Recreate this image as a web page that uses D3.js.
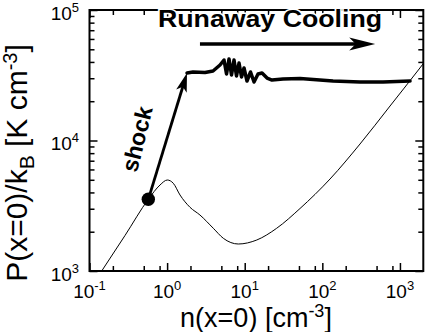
<!DOCTYPE html>
<html>
<head>
<meta charset="utf-8">
<script src="https://cdn.jsdelivr.net/npm/d3@7"></script>
<style>
body { margin: 0; background: #fff; }
svg { display: block; font-family: "Liberation Sans", Arial, Helvetica, sans-serif; }
</style>
</head>
<body>
<svg width="425" height="332"></svg>
<script>
// curva di equilibrio termico P(n)
var eqN = [0.1436, 0.2868, 0.5725, 0.810, 1.006, 1.202, 1.466, 1.973, 2.65, 3.94, 5.30, 8.27, 14.3, 25.8, 51.6, 125.7, 306, 745.6, 1727, 2000];
var eqP = [1000, 1871, 3543, 4560, 4981, 4700, 3823, 3077, 2685, 2125, 1781, 1610, 1728, 2125, 3013, 5070, 9402, 18380, 34690, 38850];

// traiettoria dopo lo shock
var trajN = [1.804, 2.157, 3.079, 3.904, 4.805, 5.410, 5.830, 6.277, 6.762, 7.280, 7.840, 8.445, 9.095, 9.795, 10.70, 11.88, 13.18, 14.84, 16.71, 19.39, 22.48, 31.16, 51.60, 137.4, 306.0, 605.7, 1350];
var trajP = [32900, 33490, 33190, 34080, 37880, 41400, 32330, 42130, 31760, 41400, 31210, 39260, 30660, 35940, 28570, 33490, 28070, 32330, 32900, 30120, 29080, 29600, 29860, 28570, 28070, 28070, 28570];

// freccia dello shock (inizio -> fine)
var shockN = [0.5725, 1.804];
var shockP = [3543, 32900];

// freccia "Runaway Cooling"
var runawayN = [2.65, 480];
var runawayP = 54800;

// tick
var xMajor = [0.1, 1, 10, 100, 1000];
var xExp = ["-1", "0", "1", "2", "3"];
var xMinor = [0.2, 0.5, 0.8, 2, 5, 8, 20, 50, 80, 200, 500, 800];
var yMajor = [1e3, 1e4, 1e5];
var yExp = ["3", "4", "5"];
var yMinor = [2e3, 3e3, 4e3, 5e3, 6e3, 7e3, 8e3, 9e3, 2e4, 3e4, 4e4, 5e4, 6e4, 7e4, 8e4, 9e4];

var svg = d3.select("svg");
var bordoSx = 89.5, bordoDx = 423.3, bordoSu = 10, bordoGiu = 271;

var x = d3.scaleLog().domain([0.1, 2000]).range([bordoSx, bordoDx]);
var y = d3.scaleLog().domain([1e3, 1e5]).range([bordoGiu, bordoSu]);

svg.append("clipPath").attr("id", "clip")
	.append("rect").attr("x", bordoSx).attr("y", bordoSu)
	.attr("width", bordoDx - bordoSx).attr("height", bordoGiu - bordoSu);

// assi con tick verso l'interno
function tickAxes(vals, size){
	svg.append("g").attr("transform", "translate(0," + bordoGiu + ")")
		.call(d3.axisBottom(x).tickValues(vals).tickSize(-size).tickFormat(""));
	svg.append("g").attr("transform", "translate(0," + bordoSu + ")")
		.call(d3.axisTop(x).tickValues(vals).tickSize(-size).tickFormat(""));
}
function tickAxesY(vals, size){
	svg.append("g").attr("transform", "translate(" + bordoSx + ",0)")
		.call(d3.axisLeft(y).tickValues(vals).tickSize(-size).tickFormat(""));
	svg.append("g").attr("transform", "translate(" + bordoDx + ",0)")
		.call(d3.axisRight(y).tickValues(vals).tickSize(-size).tickFormat(""));
}
tickAxes(xMajor, 8);
tickAxes(xMinor, 5);
tickAxesY(yMajor, 8);
tickAxesY(yMinor, 5);
svg.selectAll(".domain").remove();
svg.selectAll(".tick line").attr("stroke", "#000").attr("stroke-width", 1.5);

// etichette dei tick
xMajor.forEach(function(v, i){
	var t = svg.append("text").attr("x", x(v)).attr("y", 298)
		.attr("text-anchor", "middle").attr("font-size", 19);
	t.append("tspan").text("10");
	t.append("tspan").attr("dy", -8).attr("font-size", 13).text(xExp[i]);
});
yMajor.forEach(function(v, i){
	var t = svg.append("text").attr("x", 79).attr("y", y(v) + 9.5)
		.attr("text-anchor", "end").attr("font-size", 19);
	t.append("tspan").text("10");
	t.append("tspan").attr("dy", -8).attr("font-size", 13).text(yExp[i]);
});

// cornice
svg.append("rect").attr("x", bordoSx).attr("y", bordoSu)
	.attr("width", bordoDx - bordoSx).attr("height", bordoGiu - bordoSu)
	.attr("fill", "none").attr("stroke", "#000").attr("stroke-width", 2);

// curva sottile
var eq = eqN.map(function(d, i){ return [d, eqP[i]]; });
svg.append("path").datum(eq)
	.attr("clip-path", "url(#clip)")
	.attr("fill", "none").attr("stroke", "#000").attr("stroke-width", 1)
	.attr("d", d3.line().x(function(d){ return x(d[0]); }).y(function(d){ return y(d[1]); }).curve(d3.curveMonotoneX));

// traiettoria spessa
var traj = trajN.map(function(d, i){ return [d, trajP[i]]; });
svg.append("path").datum(traj)
	.attr("fill", "none").attr("stroke", "#000").attr("stroke-width", 3.5)
	.attr("stroke-linejoin", "round").attr("stroke-linecap", "round")
	.attr("d", d3.line().x(function(d){ return x(d[0]); }).y(function(d){ return y(d[1]); }));

// punta di freccia
function punta(x0, y0, x1, y1, len, half){
	var a = Math.atan2(y1 - y0, x1 - x0);
	var c = Math.cos(a), s = Math.sin(a);
	var bx = x1 - len * c, by = y1 - len * s;
	var nx = x1 - len * 0.75 * c, ny = y1 - len * 0.75 * s;
	return "M" + x1 + "," + y1 +
		"L" + (bx - half * s) + "," + (by + half * c) +
		"L" + nx + "," + ny +
		"L" + (bx + half * s) + "," + (by - half * c) + "Z";
}

// freccia shock
var sx0 = x(shockN[0]), sy0 = y(shockP[0]), sx1 = x(shockN[1]), sy1 = y(shockP[1]);
var sa = Math.atan2(sy1 - sy0, sx1 - sx0);
svg.append("line")
	.attr("x1", sx0).attr("y1", sy0)
	.attr("x2", sx1 - 12 * Math.cos(sa)).attr("y2", sy1 - 12 * Math.sin(sa))
	.attr("stroke", "#000").attr("stroke-width", 2.8);
svg.append("path").attr("d", punta(sx0, sy0, sx1, sy1, 19, 5.5)).attr("fill", "#000");
svg.append("circle").attr("cx", sx0).attr("cy", sy0).attr("r", 6.7).attr("fill", "#000");

// freccia runaway
var rx0 = x(runawayN[0]), rx1 = x(runawayN[1]), ry = y(runawayP);
svg.append("line").attr("x1", rx0).attr("y1", ry).attr("x2", rx1 - 15).attr("y2", ry)
	.attr("stroke", "#000").attr("stroke-width", 3.5);
svg.append("path").attr("d", punta(rx0, ry, rx1, ry, 26, 6.5)).attr("fill", "#000");

// testi
svg.append("text").attr("x", 158).attr("y", 27)
	.attr("font-size", 23).attr("font-weight", "bold")
	.attr("textLength", 224).attr("lengthAdjust", "spacingAndGlyphs")
	.attr("stroke", "#fff").attr("stroke-width", 3).attr("paint-order", "stroke")
	.text("Runaway Cooling");

svg.append("text")
	.attr("transform", "translate(137,139) rotate(-76)")
	.attr("text-anchor", "middle").attr("dy", "0.35em")
	.attr("font-size", 23).attr("font-weight", "bold")
	.text("shock");

var xl = svg.append("text").attr("x", 256).attr("y", 327)
	.attr("text-anchor", "middle").attr("font-size", 27);
xl.append("tspan").text("n(x=0) [cm");
xl.append("tspan").attr("dy", -10).attr("font-size", 18).text("-3");
xl.append("tspan").attr("dy", 10).text("]");

var yl = svg.append("text").attr("transform", "translate(27,163) rotate(-90)")
	.attr("text-anchor", "middle").attr("font-size", 30);
yl.append("tspan").text("P(x=0)/k");
yl.append("tspan").attr("dy", 7).attr("font-size", 21).text("B");
yl.append("tspan").attr("dy", -7).text(" [K cm");
yl.append("tspan").attr("dy", -10).attr("font-size", 20).text("-3");
yl.append("tspan").attr("dy", 10).text("]");
</script>
</body>
</html>
